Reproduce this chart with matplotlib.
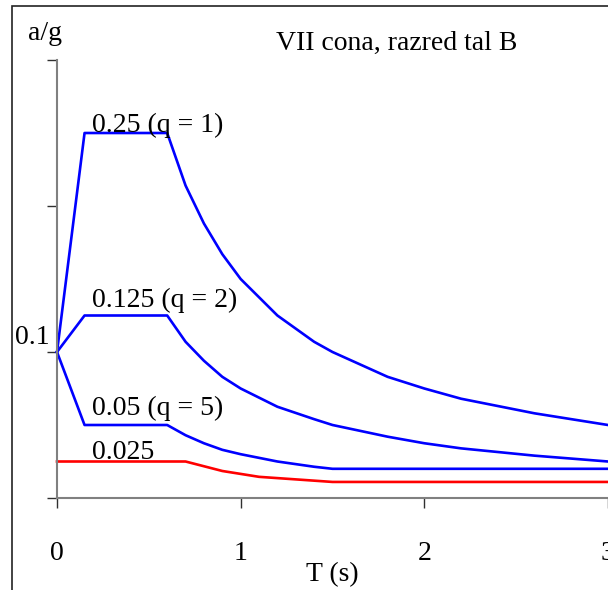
import matplotlib.pyplot as plt
from matplotlib.patches import Rectangle

plt.rcParams['font.family'] = ['Liberation Serif', 'DejaVu Serif']

# periods (s)
T = [0, 0.15, 0.6, 0.7, 0.8, 0.9, 1.0, 1.2, 1.4, 1.5, 1.8, 2.0, 2.2, 2.6, 3.0]
a_q1 = [0.1, 0.25, 0.25, 0.214, 0.188, 0.167, 0.15, 0.125, 0.107, 0.1, 0.083, 0.075, 0.068, 0.058, 0.05]
a_q2 = [0.1, 0.125, 0.125, 0.107, 0.094, 0.083, 0.075, 0.0625, 0.054, 0.05, 0.042, 0.0375, 0.034, 0.029, 0.025]
a_q5 = [0.1, 0.05, 0.05, 0.043, 0.0375, 0.033, 0.03, 0.025, 0.0214, 0.02, 0.02, 0.02, 0.02, 0.02, 0.02]

T_red = [0, 0.7, 0.9, 1.1, 1.5, 3.0]
a_red = [0.025, 0.025, 0.0185, 0.0145, 0.011, 0.011]

labels = ['0.25 (q = 1)', '0.125 (q = 2)', '0.05 (q = 5)', '0.025']
label_y = [0.251, 0.131, 0.057, 0.027]

fs = 20

fig = plt.figure(figsize=(6.08, 5.90), dpi=100)
fig.patches.append(Rectangle((12/608, -0.1), 1.2, (590-6)/590 + 0.1, transform=fig.transFigure,
                             fill=False, edgecolor='#222222', linewidth=1.2))

ax = fig.add_axes([57/608, 92/590, 551/608, 438/590])
ax.plot(T, a_q1, color='#0000ff', lw=1.9, clip_on=False)
ax.plot(T, a_q2, color='#0000ff', lw=1.9, clip_on=False)
ax.plot(T, a_q5, color='#0000ff', lw=1.9, clip_on=False)
ax.plot(T_red, a_red, color='#ff0000', lw=1.9, clip_on=False)

for lab, yy in zip(labels, label_y):
    ax.text(0.19, yy, lab, fontsize=fs, ha='left', va='baseline')

ax.set_xlim(0, 3)
ax.set_ylim(0, 0.3)
ax.set_xticks([0, 1, 2, 3])
ax.set_yticks([0, 0.1, 0.2, 0.3])
ax.set_yticklabels([])
ax.text(-0.04, 0.1055, '0.1', fontsize=fs, ha='right', va='baseline')
ax.tick_params(axis='both', direction='out', length=7, width=1, color='#303030', labelsize=fs)
ax.tick_params(axis='x', pad=24)
for s in ['top', 'right']:
    ax.spines[s].set_visible(False)
for s in ['left', 'bottom']:
    ax.spines[s].set_color('#808080')
    ax.spines[s].set_linewidth(1.5)

ax.set_xlabel('T (s)', fontsize=fs, labelpad=-3)
fig.text(45/608, 1 - 33/590, 'a/g', fontsize=fs, ha='center', va='center')
fig.text(397/608, 1 - 43/590, 'VII cona, razred tal B', fontsize=fs, ha='center', va='center')

fig.savefig('out.png', dpi=100)
